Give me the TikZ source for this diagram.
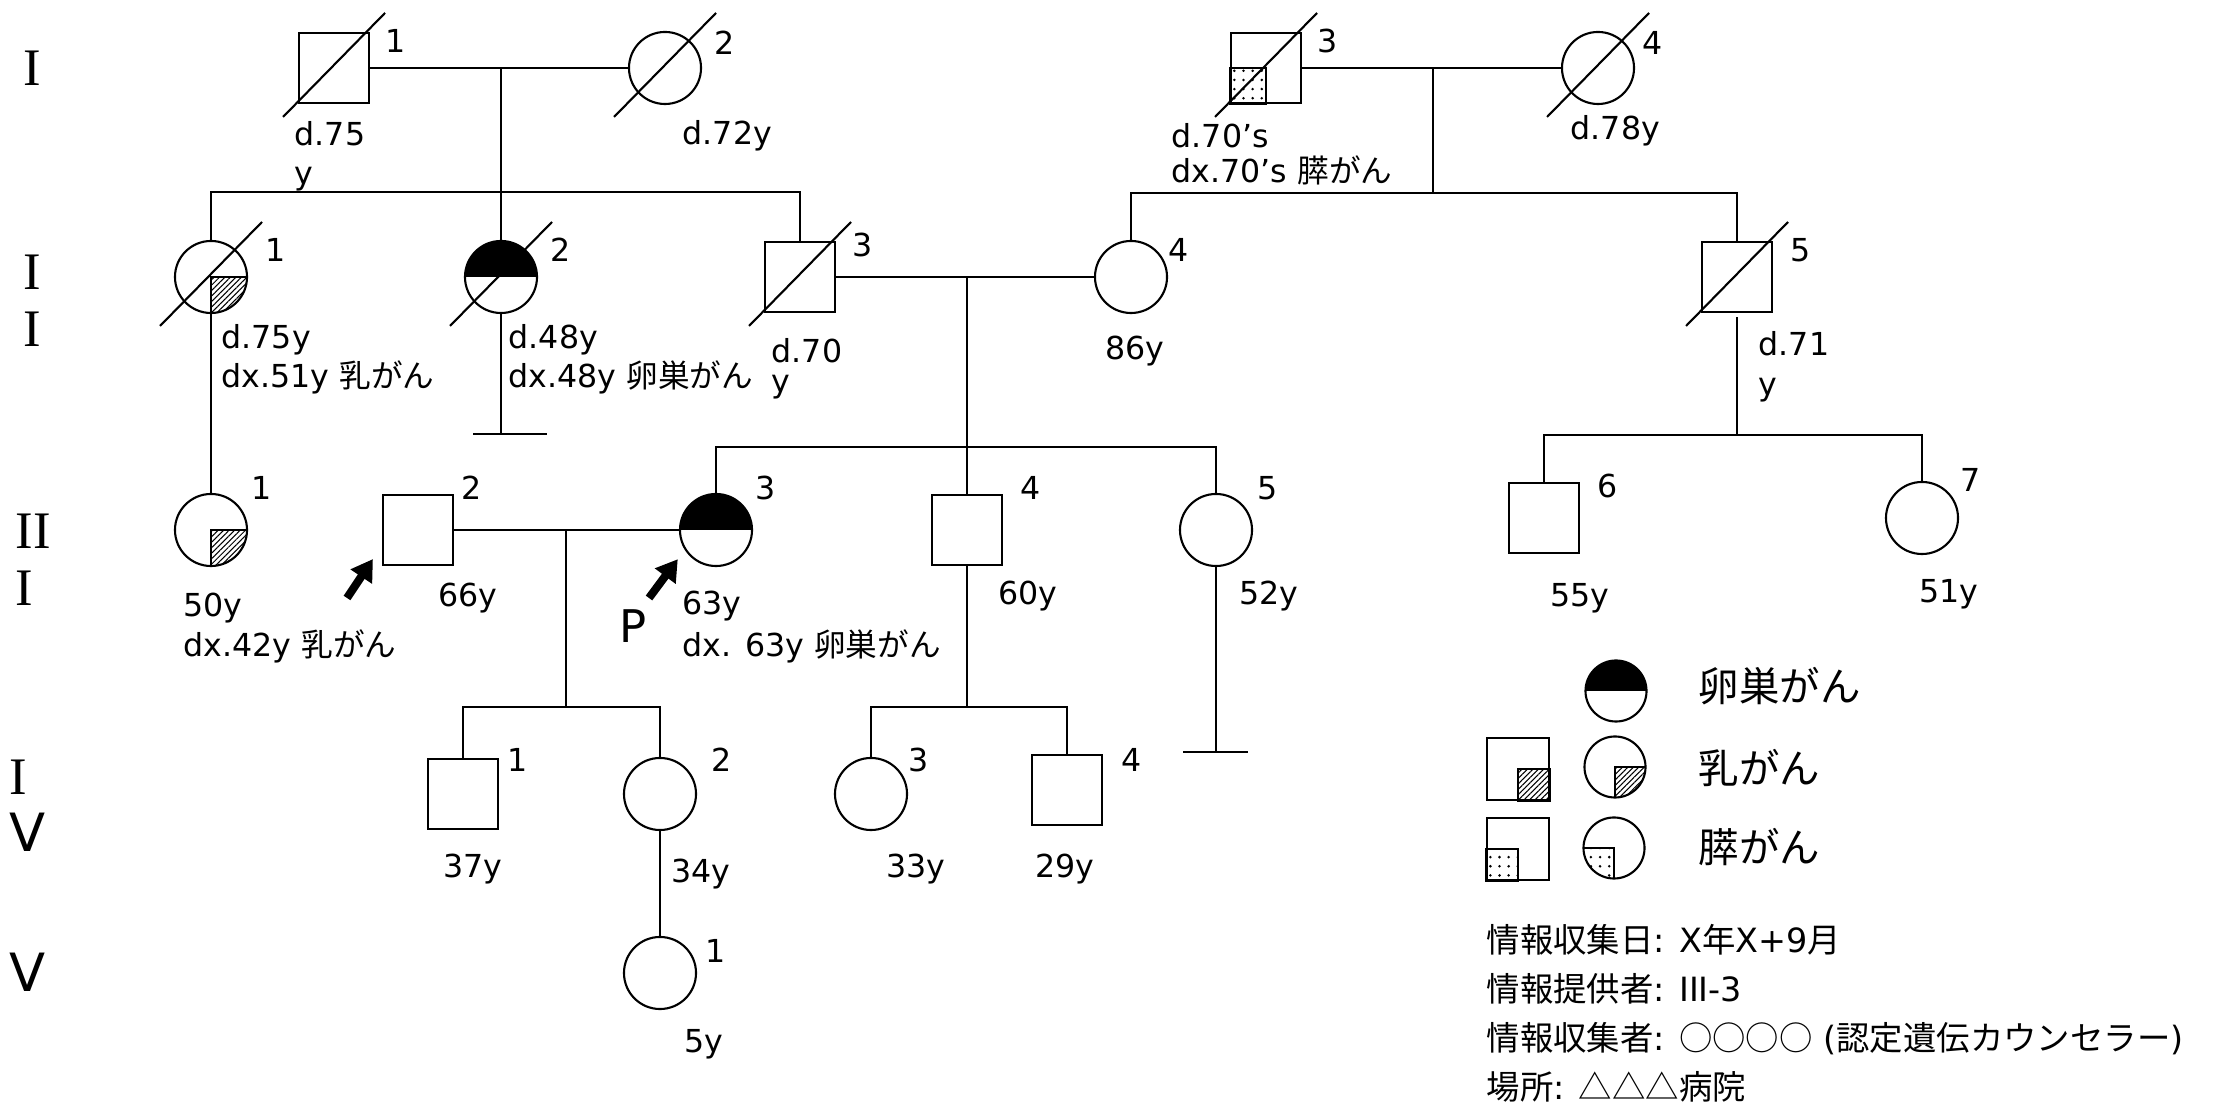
\documentclass[tikz,border=0pt]{standalone}
\usepackage{fontspec}
\setmainfont{DejaVu Sans}
\newfontfamily\jp{Noto Sans CJK JP}
\newfontfamily\genserif{Liberation Serif}
\usetikzlibrary{arrows.meta,calc,patterns.meta}

\begin{document}
\begin{tikzpicture}[x=0.01cm,y=-0.01cm,font=\fontsize{9pt}{11.1pt}\selectfont,
male/.style={draw,line width=.6pt,minimum size=.7cm,inner sep=0pt},
female/.style={draw,circle,line width=.6pt,minimum size=.72cm,inner sep=0pt},
mate/.style={line width=.8pt},
descent/.style={line width=.7pt},
sibs/.style={line width=.45pt},
slash/.style={line width=.6pt},
num/.style={anchor=base west,inner sep=0pt},
age/.style={anchor=base west,inner sep=0pt},
note/.style={anchor=north west,inner sep=0pt,align=left},
gen/.style={anchor=north west,inner sep=0pt,align=left,font=\genserif\fontsize{15pt}{16.2pt}\selectfont},
hatch/.style={draw,line width=.4pt,pattern={Lines[angle=45,distance=1.1pt,line width=.3pt]}},
speckle/.style={draw,line width=.4pt,pattern={Dots[distance=2.6pt,radius=.4pt]}},
proband/.style={-{Triangle[length=6pt,width=7pt]},line width=2.3pt},
keytext/.style={anchor=west,inner sep=0pt,font=\jp\fontsize{11.5pt}{13pt}\selectfont}]
\useasboundingbox (0,0) rectangle (2218,1104);

\node[gen] (genI) at (23,50) {I};
\node[gen] (genII) at (23,254) {I\\I};
\node[gen] (genIII) at (15,513) {II\\I};
\node[gen] (genIV) at (9,759) {I\\{\normalfont V}};
\node[gen] (genV) at (9,952) {\normalfont V};

\node[male] (I1) at (334,68) {};
\node[female] (I2) at (665,68) {};
\node[male] (I3) at (1266,68) {};
\node[female] (I4) at (1598,68) {};
\node[female] (II1) at (211,277) {};
\node[female] (II2) at (501,277) {};
\node[male] (II3) at (800,277) {};
\node[female] (II4) at (1131,277) {};
\node[male] (II5) at (1737,277) {};
\node[female] (III1) at (211,530) {};
\node[male] (III2) at (418,530) {};
\node[female] (III3) at (716,530) {};
\node[male] (III4) at (967,530) {};
\node[female] (III5) at (1216,530) {};
\node[male] (III6) at (1544,518) {};
\node[female] (III7) at (1922,518) {};
\node[male] (IV1) at (463,794) {};
\node[female] (IV2) at (660,794) {};
\node[female] (IV3) at (871,794) {};
\node[male] (IV4) at (1067,790) {};
\node[female] (V1) at (660,973) {};

\draw[speckle] (I3.west) rectangle (I3.south);
\begin{scope}
\clip (II1.center) circle[radius=36];
\draw[hatch] (II1.center) rectangle ++(40,40);
\end{scope}
\begin{scope}
\clip (III1.center) circle[radius=36];
\draw[hatch] (III1.center) rectangle ++(40,40);
\end{scope}
\begin{scope}
\clip (II2.center) circle[radius=36];
\fill (II2.center) ++(-40,-40) rectangle ++(80,40);
\end{scope}
\begin{scope}
\clip (III3.center) circle[radius=36];
\fill (III3.center) ++(-40,-40) rectangle ++(80,40);
\end{scope}

\draw[slash] ($(I1)+(-51,49)$) -- ($(I1)+(51,-55)$);
\draw[slash] ($(I2)+(-51,49)$) -- ($(I2)+(51,-55)$);
\draw[slash] ($(I3)+(-51,49)$) -- ($(I3)+(51,-55)$);
\draw[slash] ($(I4)+(-51,49)$) -- ($(I4)+(51,-55)$);
\draw[slash] ($(II1)+(-51,49)$) -- ($(II1)+(51,-55)$);
\draw[slash] ($(II2)+(-51,49)$) -- ($(II2)+(51,-55)$);
\draw[slash] ($(II3)+(-51,49)$) -- ($(II3)+(51,-55)$);
\draw[slash] ($(II5)+(-51,49)$) -- ($(II5)+(51,-55)$);

\draw[mate] (I1.east) -- (I2.west);
\draw[descent] (II2.north |- I1.east) -- (II2.north);
\coordinate (sibA) at (501,192);
\draw[sibs] (II1.north) |- (sibA) -| (II3.north);
\draw[mate] (I3.east) -- (I4.west);
\coordinate (sibB) at (1433,193);
\draw[descent] (sibB |- I3.east) -- (sibB);
\draw[sibs] (II4.north) |- (sibB) -| (II5.north);
\draw[descent] (II1.south) -- (III1.north);
\coordinate (endII2) at (501,434);
\draw[descent] (II2.south) -- (endII2);
\draw[descent] ($(endII2)+(-28,0)$) -- ($(endII2)+(46,0)$);
\draw[mate] (II3.east) -- (II4.west);
\coordinate (sibC) at (967,447);
\draw[descent] (III4.north |- II3.east) -- (III4.north);
\draw[sibs] (III3.north) |- (sibC) -| (III5.north);
\coordinate (sibD) at (1737,435);
\draw[descent] ($(II5.south)+(0,4)$) -- (sibD);
\draw[sibs] (III6.north) |- (sibD) -| (III7.north);
\draw[mate] (III2.east) -- (III3.west);
\coordinate (sibE) at (566,707);
\draw[descent] (sibE |- III2.east) -- (sibE);
\draw[sibs] (IV1.north) |- (sibE) -| (IV2.north);
\coordinate (sibF) at (967,707);
\draw[descent] (III4.south) -- (sibF);
\draw[sibs] (IV3.north) |- (sibF) -| (IV4.north);
\coordinate (endIII5) at (1216,752);
\draw[descent] (III5.south) -- (endIII5);
\draw[descent] ($(endIII5)+(-33,0)$) -- ($(endIII5)+(32,0)$);
\draw[descent] (IV2.south) -- (V1.north);

\coordinate (pbIII2) at (347,598);
\coordinate (ptIII2) at ($(III2.south west)+(-9,-7)$);
\draw[proband] (pbIII2) -- (ptIII2);
\coordinate (pbIII3) at (649,598);
\coordinate (ptIII3) at ($(III3.south west)+(-12,3)$);
\draw[proband] (pbIII3) -- (ptIII3);
\node[anchor=base west,inner sep=0pt,font=\fontsize{12.8pt}{14pt}\selectfont] (pmark) at (619,643) {P};

\node[num] (nI1) at (385,53) {1};
\node[num] (nI2) at (714,55) {2};
\node[num] (nI3) at (1317,53) {3};
\node[num] (nI4) at (1642,55) {4};
\node[num] (nII1) at (265,262) {1};
\node[num] (nII2) at (550,262) {2};
\node[num] (nII3) at (852,257) {3};
\node[num] (nII4) at (1168,262) {4};
\node[num] (nII5) at (1790,262) {5};
\node[num] (nIII1) at (251,500) {1};
\node[num] (nIII2) at (461,500) {2};
\node[num] (nIII3) at (755,500) {3};
\node[num] (nIII4) at (1020,500) {4};
\node[num] (nIII5) at (1257,500) {5};
\node[num] (nIII6) at (1597,498) {6};
\node[num] (nIII7) at (1960,492) {7};
\node[num] (nIV1) at (507,772) {1};
\node[num] (nIV2) at (711,772) {2};
\node[num] (nIV3) at (908,772) {3};
\node[num] (nIV4) at (1121,772) {4};
\node[num] (nV1) at (705,962) {1};

\node[note] (aI1) at (294,121) {d.75\\y};
\node[age] (aI2) at (682,145) {d.72y};
\node[note,font=\fontsize{9pt}{10pt}\selectfont] (aI3) at (1171,123) {d.70’s\\dx.70’s {\jp 膵がん}};
\node[age] (aI4) at (1570,140) {d.78y};
\node[note] (aII1) at (221,324) {d.75y\\dx.51y {\jp 乳がん}};
\node[note] (aII2) at (508,324) {d.48y\\dx.48y {\jp 卵巣がん}};
\node[note,font=\fontsize{9pt}{8.5pt}\selectfont] (aII3) at (771,338) {d.70\\y};
\node[age] (aII4) at (1105,360) {86y};
\node[note,font=\fontsize{9pt}{11.4pt}\selectfont] (aII5) at (1758,331) {d.71\\y};
\node[note,font=\fontsize{9pt}{11.4pt}\selectfont] (aIII1) at (183,592) {50y\\dx.42y {\jp 乳がん}};
\node[age] (aIII2) at (438,607) {66y};
\node[note,font=\fontsize{9pt}{11.95pt}\selectfont] (aIII3) at (682,590) {63y\\dx. 63y {\jp 卵巣がん}};
\node[age] (aIII4) at (998,605) {60y};
\node[age] (aIII5) at (1239,605) {52y};
\node[age] (aIII6) at (1550,607) {55y};
\node[age] (aIII7) at (1919,603) {51y};
\node[age] (aIV1) at (443,878) {37y};
\node[age] (aIV2) at (671,883) {34y};
\node[age] (aIV3) at (886,878) {33y};
\node[age] (aIV4) at (1035,878) {29y};
\node[age] (aV1) at (684,1052) {5y};

\node[female,minimum size=.61cm] (Lov) at (1616,691) {};
\node[male,minimum size=.62cm] (Lbrsq) at (1518,769) {};
\node[female,minimum size=.61cm] (Lbrci) at (1615,767) {};
\node[male,minimum size=.62cm] (Lpasq) at (1518,849) {};
\node[female,minimum size=.61cm] (Lpaci) at (1614,848) {};
\begin{scope}
\clip (Lov.center) circle[radius=30.5];
\fill (Lov.center) ++(-35,-35) rectangle ++(70,35);
\end{scope}
\draw[hatch] (Lbrsq.center) rectangle (Lbrsq.south east);
\begin{scope}
\clip (Lbrci.center) circle[radius=30.5];
\draw[hatch] (Lbrci.center) rectangle ++(35,35);
\end{scope}
\draw[speckle] (Lpasq.west) rectangle (Lpasq.south);
\begin{scope}
\clip (Lpaci.center) circle[radius=30.5];
\draw[speckle] (Lpaci.center) rectangle ++(-35,35);
\end{scope}
\node[keytext] (Lovt) at (1698,686) {卵巣がん};
\node[keytext] (Lbrt) at (1698,768) {乳がん};
\node[keytext] (Lpat) at (1698,847) {膵がん};

\node[note,font=\fontsize{9.5pt}{13.9pt}\selectfont] (infotext) at (1486,924)
 {{\jp 情報収集日}: X{\jp 年}X+9{\jp 月}\\
  {\jp 情報提供者}: III-3\\
  {\jp 情報収集者}: {\jp ○○○○} ({\jp 認定遺伝カウンセラー})\\
  {\jp 場所}: {\jp △△△病院}};
\end{tikzpicture}
\end{document}
